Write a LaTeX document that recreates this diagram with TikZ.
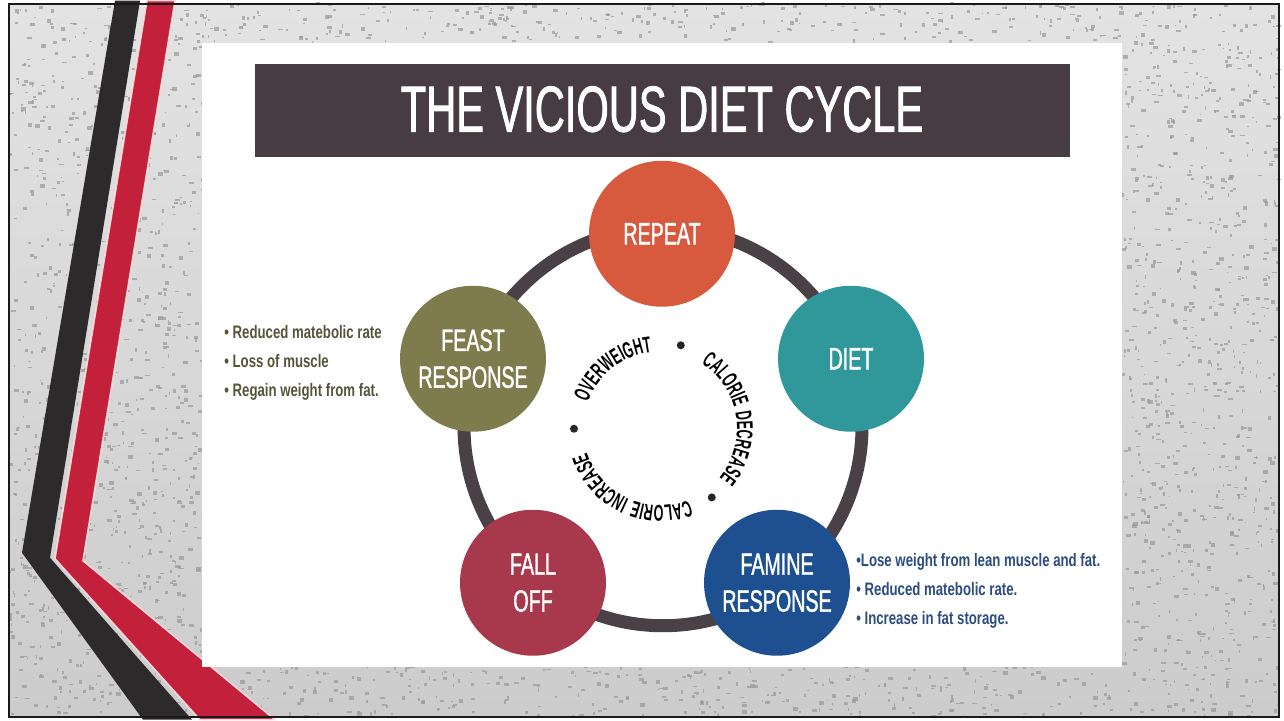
\documentclass[tikz,border=0pt]{standalone}
\usepackage{fontspec}
\setmainfont{Liberation Sans}
\newfontfamily\condfont[FakeStretch=0.64, FakeBold=1.2]{Liberation Sans}
\newfontfamily\notefont[FakeStretch=0.73]{Liberation Sans}
\newfontfamily\tightfont[FakeStretch=0.55, LetterSpace=6]{Liberation Sans}
\usetikzlibrary{calc,decorations.text}
\newcommand{\hubfont}{\tightfont\bfseries\fontsize{13}{15}\selectfont}

\definecolor{barcol}{HTML}{463C42}
\definecolor{ringcol}{HTML}{4A4147}
\definecolor{repeatcol}{HTML}{D85A3E}
\definecolor{dietcol}{HTML}{30979A}
\definecolor{faminecol}{HTML}{1D4F91}
\definecolor{fallcol}{HTML}{A8384C}
\definecolor{feastcol}{HTML}{7E7B4C}
\definecolor{olivetext}{HTML}{55553A}
\definecolor{bluetext}{HTML}{2D4D80}
\definecolor{stripered}{HTML}{C3213B}
\definecolor{stripeblack}{HTML}{2C2A2B}

\tikzset{
  stage/.style={circle, minimum size=2.92cm, inner sep=0pt, text=white, align=center,
    font=\condfont\fontsize{17.5}{21}\selectfont},
  notes/.style={anchor=north west, inner sep=0pt, align=left,
    font=\notefont\bfseries\fontsize{10.3}{16.6}\selectfont},
  speck/.style={fill=gray!80, opacity=.7},
}

\begin{document}
\begin{tikzpicture}[x=0.02cm, y=0.02cm]
    % backdrop
    \fill[white] (0,0) rectangle (1284,719);
    \shade[top color=gray!22, bottom color=gray!40] (9,3) rectangle (1279,716);
    \pgfmathsetseed{17}
    \foreach \i in {1,...,1000}   % left band
        \fill[speck] ({9+rnd*193},{3+rnd*710}) rectangle ++({1+rnd*4},{1+rnd*3});
    \foreach \i in {1,...,850}   % right band
        \fill[speck] ({1122+rnd*155},{3+rnd*710}) rectangle ++({1+rnd*4},{1+rnd*3});
    \foreach \i in {1,...,280}   % top band
        \fill[speck] ({202+rnd*920},{677+rnd*38}) rectangle ++({1+rnd*4},{1+rnd*3});
    \foreach \i in {1,...,340}   % bottom band
        \fill[speck] ({202+rnd*920},{3+rnd*49}) rectangle ++({1+rnd*4},{1+rnd*3});

    % stripes
    \fill[stripeblack] (115,719) -- (140,719) -- (50,162) -- (192,0) -- (143,0) -- (22,167) -- cycle;
    \fill[stripered, draw=red!15!white, line width=0.03cm] (147,719) -- (175,719) -- (83,159) -- (275,0) -- (200,0) -- (55,161) -- cycle;
    \draw[gray!20!black, line width=0.04cm] (9,3) rectangle (1279,716);

    % slide
    \fill[white] (202,53) rectangle (1122,677);
    \fill[barcol] (255,563) rectangle (1070,656);
    \node[text=white, font=\condfont\fontsize{37}{40}\selectfont] (title) at (662,610.5) {THE VICIOUS DIET CYCLE};

    % cycle
    \draw[ringcol, line width=0.26cm] (663,293) circle[radius=199];
    \node[stage, fill=repeatcol] (repeat) at (662,486) {REPEAT};
    \node[stage, fill=dietcol] (diet) at (851,361) {DIET};
    \node[stage, fill=faminecol] (famine) at (777,137) {FAMINE\\RESPONSE};
    \node[stage, fill=fallcol] (falloff) at (533,137) {FALL\\OFF};
    \node[stage, fill=feastcol] (feast) at (473,361) {FEAST\\RESPONSE};

    % words round the hub
    \coordinate (hub) at (660,291);
    \path[decorate, decoration={text along path, text align=center, text={|\hubfont|OVERWEIGHT}}]
        ($(hub)+(198:77)$) arc[start angle=198, end angle=58, radius=77];
    \path[decorate, decoration={text along path, text align=center, text={|\hubfont|CALORIE DECREASE}}]
        ($(hub)+(79:77)$) arc[start angle=79, end angle=-61, radius=77];
    \path[decorate, decoration={text along path, text align=center, text={|\hubfont|CALORIE INCREASE}}]
        ($(hub)+(-45:77)$) arc[start angle=-45, end angle=-185, radius=77];
    \foreach \ang in {76,-53,180}
        \fill[black!85] ($(hub)+(\ang:86)$) circle[radius=4];

    % side notes
    \node[notes, text=olivetext] (feastnotes) at (224,395) {• Reduced matebolic rate\\• Loss of muscle\\• Regain weight from fat.};
    \node[notes, text=bluetext] (faminenotes) at (856,167) {•Lose weight from lean muscle and fat.\\• Reduced matebolic rate.\\• Increase in fat storage.};
\end{tikzpicture}
\end{document}
